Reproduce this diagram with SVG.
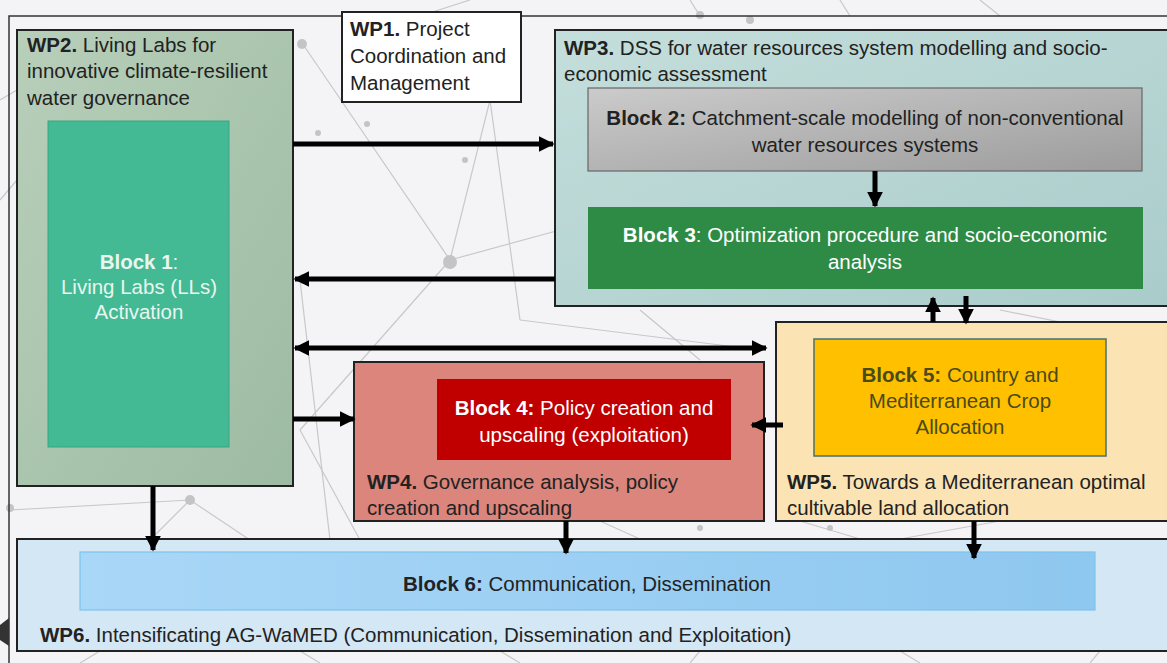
<svg xmlns="http://www.w3.org/2000/svg" width="1167" height="663" viewBox="0 0 1167 663">
<defs>
<style>
text{font-family:"Liberation Sans",Arial,sans-serif;font-size:20.5px;fill:#222}
.b{font-weight:bold}
.w{fill:#fff}
.wp{stroke:#222;stroke-width:2}
.conn line{stroke:#000;stroke-width:5}
.bg line{stroke:#c8c8cc;stroke-width:1.2}
.bg circle{fill:#c4c4c8}
</style>
<marker id="ah" viewBox="0 0 10 10" refX="9" refY="5" markerWidth="3.2" markerHeight="3.2" orient="auto-start-reverse" markerUnits="strokeWidth"><path d="M0,0L10,5L0,10z" fill="#000"/></marker>
<linearGradient id="g2" x1="0" y1="0" x2="1" y2="1"><stop offset="0" stop-color="#b8cfba"/><stop offset="1" stop-color="#9dbba2"/></linearGradient>
<linearGradient id="g3" x1="0" y1="0" x2="1" y2="1"><stop offset="0" stop-color="#c4dedb"/><stop offset="1" stop-color="#a9cccb"/></linearGradient>
<linearGradient id="gb2" x1="0" y1="0" x2="1" y2="1"><stop offset="0" stop-color="#cbcbcb"/><stop offset="1" stop-color="#9c9c9c"/></linearGradient>
<linearGradient id="gb6" x1="0" y1="0" x2="1" y2="0"><stop offset="0" stop-color="#a9d7f7"/><stop offset="1" stop-color="#8ec7ef"/></linearGradient>
</defs>
<rect width="1167" height="663" fill="#f4f4f6"/>
<g class="bg">
<line x1="300" y1="40" x2="450" y2="260"/><line x1="450" y1="260" x2="490" y2="100"/><line x1="490" y1="100" x2="520" y2="320"/><line x1="450" y1="260" x2="300" y2="430"/><line x1="450" y1="260" x2="560" y2="230"/><line x1="300" y1="280" x2="330" y2="540"/><line x1="300" y1="430" x2="360" y2="540"/><line x1="190" y1="500" x2="150" y2="540"/><line x1="190" y1="500" x2="250" y2="540"/><line x1="10" y1="510" x2="190" y2="500"/><line x1="520" y1="320" x2="760" y2="350"/><line x1="640" y1="310" x2="700" y2="360"/><line x1="1000" y1="310" x2="1100" y2="330"/><line x1="420" y1="16" x2="470" y2="0"/><line x1="700" y1="16" x2="690" y2="0"/><line x1="850" y1="16" x2="840" y2="0"/><line x1="1000" y1="16" x2="980" y2="0"/><line x1="800" y1="521" x2="860" y2="539"/><line x1="900" y1="539" x2="1000" y2="521"/><line x1="600" y1="521" x2="640" y2="539"/><line x1="100" y1="651" x2="80" y2="663"/><line x1="300" y1="651" x2="320" y2="663"/><line x1="500" y1="651" x2="520" y2="663"/><line x1="700" y1="651" x2="690" y2="663"/><line x1="900" y1="651" x2="920" y2="663"/><line x1="1100" y1="651" x2="1090" y2="663"/><line x1="0" y1="200" x2="17" y2="180"/><line x1="0" y1="100" x2="17" y2="90"/>
<circle cx="302" cy="44" r="5"/><circle cx="450" cy="262" r="7"/><circle cx="465" cy="160" r="3"/><circle cx="318" cy="133" r="3"/><circle cx="367" cy="124" r="3"/><circle cx="303" cy="279" r="5"/><circle cx="190" cy="500" r="5"/><circle cx="10" cy="508" r="4"/><circle cx="700" cy="15" r="4"/><circle cx="750" cy="20" r="4"/><circle cx="1100" cy="330" r="4"/><circle cx="830" cy="528" r="3"/><circle cx="700" cy="528" r="3"/>
</g>
<rect x="9" y="16" width="1170" height="660" fill="none" stroke="#333" stroke-width="1.5"/>
<path d="M0,625 L9,618 L9,646 L0,640z" fill="#333"/>
<g id="wp2">
<rect class="wp" x="17" y="30" width="276" height="456" fill="url(#g2)"/>
<text x="27" y="52"><tspan class="b">WP2.</tspan> Living Labs for</text>
<text x="27" y="78">innovative climate-resilient</text>
<text x="27" y="105">water governance</text>
</g>
<g id="block1">
<rect x="48" y="121" width="181" height="326" fill="#43b994" stroke="#3aa584" stroke-width="1"/>
<text x="139" y="269" text-anchor="middle" style="fill:#e8f6ef"><tspan class="b">Block 1</tspan>:</text>
<text x="139" y="294" text-anchor="middle" style="fill:#e8f6ef">Living Labs (LLs)</text>
<text x="139" y="319" text-anchor="middle" style="fill:#e8f6ef">Activation</text>
</g>
<g id="wp1">
<rect class="wp" x="342" y="12" width="179" height="90" fill="#fff"/>
<text x="350" y="36"><tspan class="b">WP1.</tspan> Project</text>
<text x="350" y="63">Coordination and</text>
<text x="350" y="90">Management</text>
</g>
<g id="wp3">
<rect class="wp" x="555" y="30" width="620" height="276" fill="url(#g3)"/>
<text x="564" y="55"><tspan class="b">WP3.</tspan> DSS for water resources system modelling and socio-</text>
<text x="564" y="81">economic assessment</text>
</g>
<g id="block2">
<rect x="588" y="88" width="554" height="83" fill="url(#gb2)" stroke="#666" stroke-width="1.2"/>
<text x="865" y="125" text-anchor="middle"><tspan class="b">Block 2:</tspan> Catchment-scale modelling of non-conventional</text>
<text x="865" y="152" text-anchor="middle">water resources systems</text>
</g>
<g id="block3">
<rect x="588" y="207" width="555" height="82" fill="#2e8b46"/>
<text x="865" y="242" text-anchor="middle" class="w"><tspan class="b">Block 3</tspan>: Optimization procedure and socio-economic</text>
<text x="865" y="269" text-anchor="middle" class="w">analysis</text>
</g>
<g id="wp5">
<rect class="wp" x="776" y="322" width="399" height="199" fill="#fbe3b4"/>
<text x="787" y="489"><tspan class="b">WP5.</tspan> Towards a Mediterranean optimal</text>
<text x="787" y="515">cultivable land allocation</text>
</g>
<g id="block5">
<rect x="814" y="339" width="292" height="117" fill="#ffc000" stroke="#4a7070" stroke-width="1.5"/>
<text x="960" y="382" text-anchor="middle" style="fill:#4a4a1a"><tspan class="b">Block 5:</tspan> Country and</text>
<text x="960" y="408" text-anchor="middle" style="fill:#4a4a1a">Mediterranean Crop</text>
<text x="960" y="434" text-anchor="middle" style="fill:#4a4a1a">Allocation</text>
</g>
<g id="wp4">
<rect class="wp" x="354" y="362" width="410" height="159" fill="#db857c"/>
<text x="367" y="489"><tspan class="b">WP4.</tspan> Governance analysis, policy</text>
<text x="367" y="515">creation and upscaling</text>
</g>
<g id="block4">
<rect x="437" y="379" width="294" height="81" fill="#c00000"/>
<text x="584" y="415" text-anchor="middle" class="w"><tspan class="b">Block 4:</tspan> Policy creation and</text>
<text x="584" y="442" text-anchor="middle" class="w">upscaling (exploitation)</text>
</g>
<g id="wp6">
<rect class="wp" x="17" y="539" width="1158" height="112" fill="#d4e7f5"/>
<text x="40" y="642"><tspan class="b">WP6.</tspan> Intensificating AG-WaMED (Communication, Dissemination and Exploitation)</text>
</g>
<g id="block6">
<rect x="80" y="552" width="1015" height="58" fill="url(#gb6)" stroke="#7fc4ec" stroke-width="1.2"/>
<text x="587" y="591" text-anchor="middle"><tspan class="b">Block 6:</tspan> Communication, Dissemination</text>
</g>
<g class="conn">
<line x1="293" y1="144" x2="553" y2="144" marker-end="url(#ah)"/>
<line x1="555" y1="279" x2="295" y2="279" marker-end="url(#ah)"/>
<line x1="875" y1="171" x2="875" y2="206" marker-end="url(#ah)"/>
<line x1="933" y1="322" x2="933" y2="298" marker-end="url(#ah)"/>
<line x1="966" y1="296" x2="966" y2="323" marker-end="url(#ah)"/>
<line x1="295" y1="348" x2="766" y2="348" marker-start="url(#ah)" marker-end="url(#ah)"/>
<line x1="293" y1="419" x2="354" y2="419" marker-end="url(#ah)"/>
<line x1="783" y1="425" x2="752" y2="425" marker-end="url(#ah)"/>
<line x1="153" y1="486" x2="153" y2="550" marker-end="url(#ah)"/>
<line x1="566" y1="521" x2="566" y2="553" marker-end="url(#ah)"/>
<line x1="974" y1="521" x2="974" y2="558" marker-end="url(#ah)"/>
</g>
</svg>
